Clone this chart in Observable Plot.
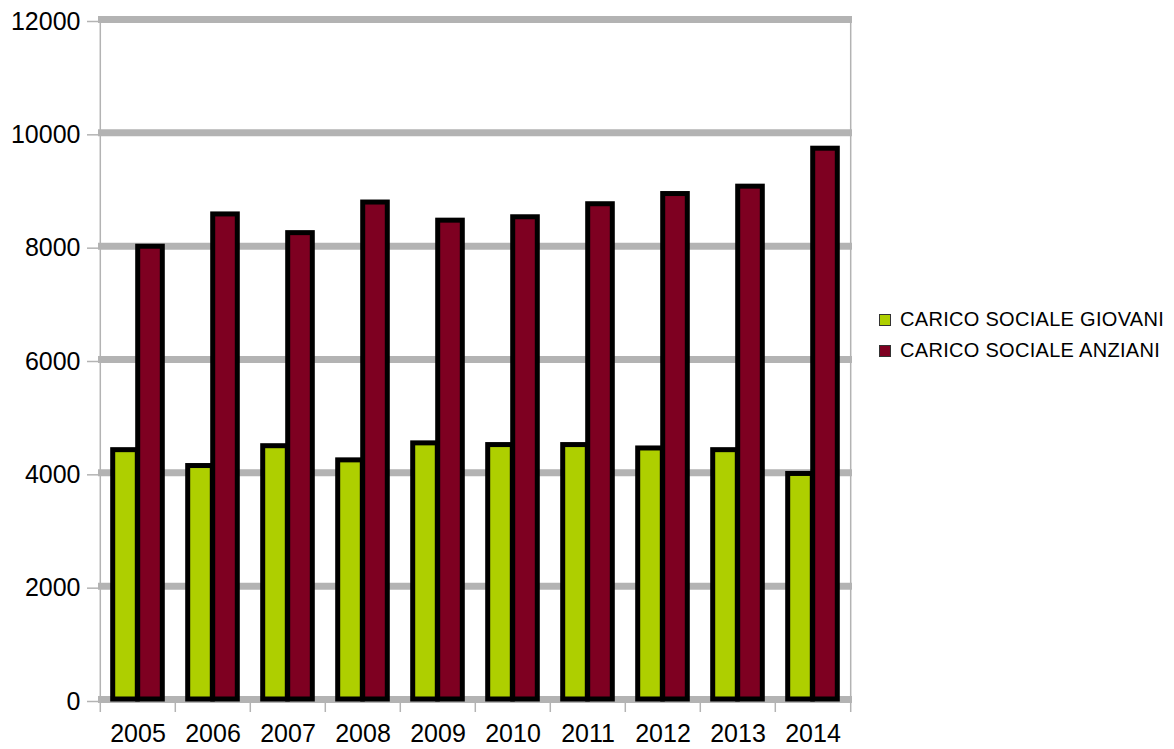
<!DOCTYPE html>
<html>
<head>
<meta charset="utf-8">
<script src="https://cdn.jsdelivr.net/npm/d3@7"></script>
<script src="https://cdn.jsdelivr.net/npm/@observablehq/plot@0.6"></script>
<style>
  html, body { margin: 0; padding: 0; background: #fff; }
  #wrap { position: relative; width: 1174px; height: 749px; font-family: "Liberation Sans", Arial, sans-serif; }
  #legend { position: absolute; left: 879px; top: 304px; font-size: 20px; color: #000; letter-spacing: 0.3px; }
  .item { display: flex; align-items: center; height: 31px; }
  .sw { width: 12px; height: 12px; border: 1px solid #333; margin-right: 9px; box-sizing: border-box; }
</style>
</head>
<body>
<div id="wrap"><div id="legend"></div></div>
<script>
const years = ["2005","2006","2007","2008","2009","2010","2011","2012","2013","2014"];
const giovani = [4400, 4120, 4470, 4220, 4520, 4490, 4490, 4430, 4400, 3980];
const anziani = [7990, 8560, 8230, 8770, 8450, 8510, 8740, 8920, 9050, 9720];
const yTicks = [0, 2000, 4000, 6000, 8000, 10000, 12000];
const seriesNames = ["CARICO SOCIALE GIOVANI", "CARICO SOCIALE ANZIANI"];
const seriesColors = ["#aecf00", "#7e0021"];

const rows = years.map((year, i) => ({year, giovani: giovani[i], anziani: anziani[i]}));

const width = 1174, height = 749;
const marginLeft = 98, marginRight = 322, marginTop = 19, marginBottom = 50;
const bw = (width - marginLeft - marginRight) / years.length;
const barW = 25;
const grid = "#b3b3b3";

const chart = Plot.plot({
  width, height, marginLeft, marginRight, marginTop, marginBottom,
  style: {fontFamily: "Liberation Sans, Arial, sans-serif", fontSize: "25px", color: "#000", background: "#fff"},
  x: {domain: years, padding: 0},
  y: {domain: [0, 12000]},
  marks: [
    Plot.ruleY(yTicks, {stroke: grid, strokeWidth: 7}),
    Plot.ruleX([years[0]], {dx: -bw / 2, stroke: grid, strokeWidth: 1.5}),
    Plot.ruleX([years[years.length - 1]], {dx: bw / 2, stroke: grid, strokeWidth: 1.5}),
    Plot.barY(rows, {x: "year", y: "giovani", fill: seriesColors[0], stroke: "#000", strokeWidth: 5,
      strokeLinejoin: "miter", insetLeft: bw / 2 - barW, insetRight: bw / 2}),
    Plot.barY(rows, {x: "year", y: "anziani", fill: seriesColors[1], stroke: "#000", strokeWidth: 5,
      strokeLinejoin: "miter", insetLeft: bw / 2, insetRight: bw / 2 - barW}),
    Plot.axisY({ticks: yTicks, tickSize: 11, tickPadding: 7, tickFormat: "d", stroke: grid, strokeWidth: 1.5,
      fill: "#000", fontSize: 25, label: null, dy: 2}),
    Plot.axisX({tickSize: 13, tickFormat: () => "", dx: -bw / 2, stroke: grid, strokeWidth: 1.5, label: null}),
    Plot.axisX({ticks: [years[years.length - 1]], tickSize: 13, tickFormat: () => "", dx: bw / 2, stroke: grid, strokeWidth: 1.5, label: null}),
    Plot.axisX({tickSize: 0, tickPadding: 25, fill: "#000", fontSize: 25, label: null})
  ]
});
document.getElementById("wrap").prepend(chart);

const legend = document.getElementById("legend");
seriesNames.forEach((name, i) => {
  const item = document.createElement("div");
  item.className = "item";
  const sw = document.createElement("div");
  sw.className = "sw";
  sw.style.background = seriesColors[i];
  const t = document.createElement("span");
  t.textContent = name;
  item.append(sw, t);
  legend.append(item);
});
</script>
</body>
</html>
